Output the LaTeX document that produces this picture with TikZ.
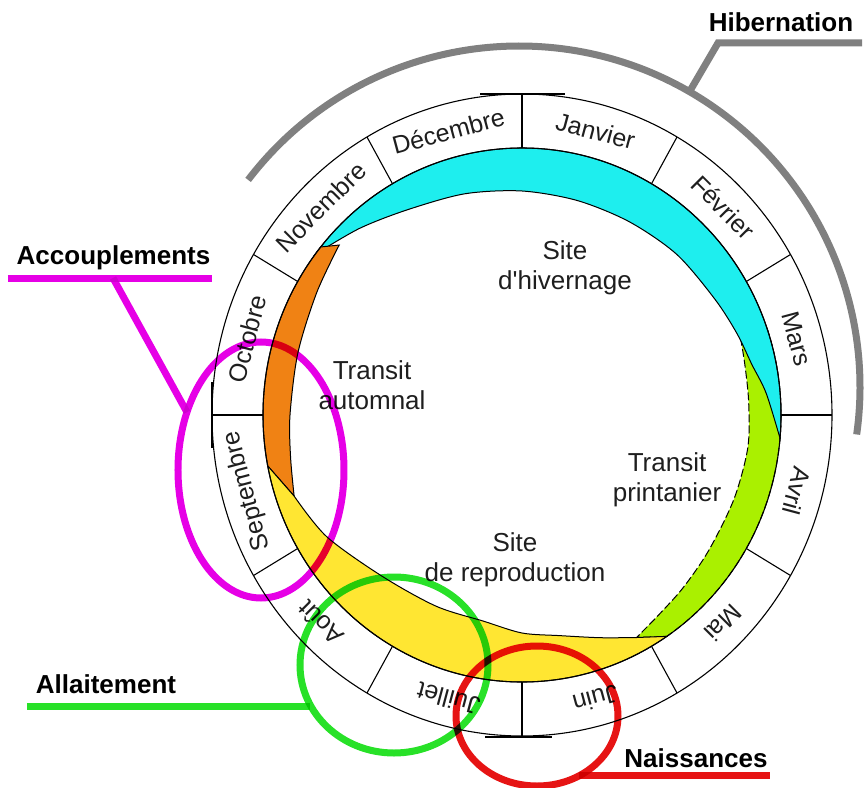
\documentclass[tikz,border=0pt]{standalone}
\usepackage{fontspec}
\setmainfont{Liberation Sans}
\usetikzlibrary{shapes.geometric}

\definecolor{hibgray}{RGB}{128,128,128}
\definecolor{bandcyan}{RGB}{30,238,238}
\definecolor{bandorange}{RGB}{240,130,20}
\definecolor{bandyellow}{RGB}{255,230,50}
\definecolor{bandgreen}{RGB}{170,240,0}
\definecolor{accmagenta}{RGB}{230,0,230}
\definecolor{allgreen}{RGB}{40,225,40}
\definecolor{naired}{RGB}{230,20,20}
\definecolor{txtgray}{RGB}{30,30,30}

\tikzset{
  band/.style={draw=black, line width=1},
  ringline/.style={draw=black, line width=1.1},
  month/.style={font=\fontsize{25}{28}\selectfont, text=txtgray, inner sep=0},
  zone/.style={font=\fontsize{26}{30}\selectfont, text=txtgray, align=center, inner sep=0},
  tag/.style={font=\fontsize{26}{30}\selectfont\bfseries, text=black, inner sep=0, anchor=base},
  period/.style={draw, line width=7, ellipse, inner sep=0, outer sep=0},
}

\begin{document}
\begin{tikzpicture}[x=1pt,y=1pt]
\useasboundingbox (-522,-372) rectangle (344,415);

% migration bands
\filldraw[band, fill=bandgreen, dash pattern=on 8pt off 3pt] (19:259 and 267) arc[start angle=19, end angle=-56, x radius=259, y radius=267]
  -- plot[smooth] coordinates {(-62:244 and 252) (-55:237 and 245) (-46:232 and 240) (-35:228 and 236) (-21:227 and 235) (-8:228 and 236) (3:227 and 235) (12:228 and 236) (19:231 and 239)} -- cycle;
\filldraw[band, fill=bandcyan] (143:259 and 267) arc[start angle=143, end angle=-5, x radius=259, y radius=267]
  -- plot[smooth] coordinates {(-5:259 and 267) (5:245 and 253) (12:235 and 243) (20:229 and 237) (30:223 and 231) (45:219 and 227) (60:215 and 223) (75:214 and 222) (90:216 and 224) (105:221 and 229) (120:229 and 237) (132:243 and 251) (143:259 and 267)} -- cycle;
\filldraw[band, fill=bandorange] (141:259 and 267) arc[start angle=141, end angle=191, x radius=259, y radius=267]
  -- plot[smooth] coordinates {(199:241 and 249) (190:235 and 243) (180:232 and 240) (165:232 and 240) (150:237 and 245) (138:246 and 254)} -- cycle;
\filldraw[band, fill=bandyellow] (191:259 and 267) arc[start angle=191, end angle=304, x radius=259, y radius=267]
  -- plot[smooth] coordinates {(298:244 and 252) (290:229 and 237) (280:216 and 224) (270:210 and 218) (259:202 and 210) (245:203 and 211) (228:209 and 217) (211:228 and 236) (199:241 and 249)} -- cycle;

% month ring
\draw[ringline] (0,0) ellipse [x radius=310, y radius=321];
\draw[ringline] (0,0) ellipse [x radius=259, y radius=267];
\draw[ringline] (0:259 and 267) -- (0:310 and 321);
\draw[ringline] (30:259 and 267) -- (30:310 and 321);
\draw[ringline] (60:259 and 267) -- (60:310 and 321);
\draw[ringline] (90:259 and 267) -- (90:310 and 321);
\draw[ringline] (120:259 and 267) -- (120:310 and 321);
\draw[ringline] (150:259 and 267) -- (150:310 and 321);
\draw[ringline] (180:259 and 267) -- (180:310 and 321);
\draw[ringline] (210:259 and 267) -- (210:310 and 321);
\draw[ringline] (240:259 and 267) -- (240:310 and 321);
\draw[ringline] (270:259 and 267) -- (270:310 and 321);
\draw[ringline] (300:259 and 267) -- (300:310 and 321);
\draw[ringline] (330:259 and 267) -- (330:310 and 321);
\draw[line width=2.2] (-42,321) -- (43,321);
\draw[line width=2.2] (-37,-322) -- (30,-322);
\draw[line width=2.2] (-310,33) -- (-310,-33);

\node[month, rotate=-15] (janvier) at (75:284.5 and 294) {Janvier};
\node[month, rotate=-45] (fevrier) at (45:284.5 and 294) {Février};
\node[month, rotate=-75] (mars) at (15:284.5 and 294) {Mars};
\node[month, rotate=-105] (avril) at (-15:284.5 and 294) {Avril};
\node[month, rotate=-135] (mai) at (-45:284.5 and 294) {Mai};
\node[month, rotate=-165] (juin) at (-75:284.5 and 294) {Juin};
\node[month, rotate=-195] (juillet) at (-105:284.5 and 294) {Juillet};
\node[month, rotate=-225] (aout) at (-135:284.5 and 294) {Août};
\node[month, rotate=105] (septembre) at (195:284.5 and 294) {Septembre};
\node[month, rotate=75] (octobre) at (165:284.5 and 294) {Octobre};
\node[month, rotate=45] (novembre) at (135:284.5 and 294) {Novembre};
\node[month, rotate=15] (decembre) at (105:284.5 and 294) {Décembre};

\node[zone] (hivernage) at (43,147) {Site\\d\textquotesingle hivernage};
\node[zone] (automnal) at (-150,30) {Transit\\automnal};
\node[zone] (printanier) at (145,-65) {Transit\\printanier};
\node[zone] (reproduction) at (-7,-145) {Site\\de reproduction};

% hibernation
\node[tag] (hibLabel) at (259,383) {Hibernation};
\coordinate (hibEnd) at (340,372);
\coordinate (hibKnee) at (196,372);
\coordinate (hibJoin) at ([shift={(-3,28)}]60:341);
\draw[hibgray, line width=7] ([shift={(-3,28)}]142.6:341) arc[start angle=142.6, end angle=-8, radius=341];
\draw[hibgray, line width=7] (hibEnd) -- (hibKnee) -- (hibJoin);

% periods
\begin{scope}[blend mode=multiply]
\node[period, accmagenta, minimum width=166, minimum height=256] (accRing) at (-261,-55) {};
\node[period, allgreen, minimum width=188, minimum height=176] (allRing) at (-128,-250) {};
\node[period, naired, minimum width=162, minimum height=140] (naiRing) at (15,-301) {};
\coordinate (accStart) at (-514,137);
\coordinate (accKnee) at (-409,137);
\coordinate (accEnd) at (-310,137);
\draw[accmagenta, line width=7] (accStart) -- (accEnd);
\draw[accmagenta, line width=7] (accKnee) -- (accRing.142);
\coordinate (allEnd) at (-495,-291);
\draw[allgreen, line width=7] (allEnd) -- (allEnd -| allRing.205);
\coordinate (naiEnd) at (248,-363);
\draw[naired, line width=7] (naiRing.-55) -- (naiRing.-55 -| naiEnd);
\end{scope}
\node[tag] (accLabel) at (-408.5,150) {Accouplements};
\node[tag] (allLabel) at (-416,-278) {Allaitement};
\node[tag] (naiLabel) at (174,-352) {Naissances};
\end{tikzpicture}
\end{document}
